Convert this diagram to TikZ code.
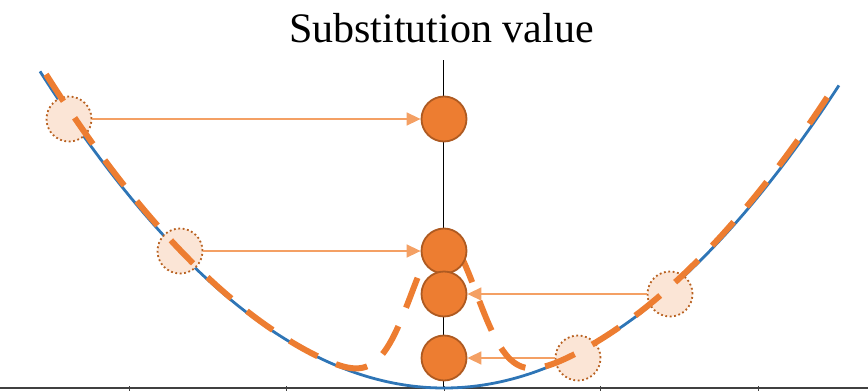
\documentclass[tikz,border=0pt]{standalone}
\usepackage{fontspec}
\setmainfont{Liberation Serif}
\usetikzlibrary{arrows.meta}
\definecolor{orfill}{HTML}{ED7D31}
\definecolor{orline}{HTML}{AE5A21}
\definecolor{pale}{HTML}{FBE5D6}
\definecolor{paleline}{HTML}{B8601F}
\definecolor{arr}{HTML}{F4A064}
\definecolor{blu}{HTML}{2E75B6}
\definecolor{axisgray}{HTML}{404040}
\pgfdeclarelayer{lone}
\pgfdeclarelayer{ltwo}
\pgfdeclarelayer{lthree}
\pgfdeclarelayer{lfour}
\pgfsetlayers{lone,ltwo,lthree,lfour,main}
\begin{document}
\begin{tikzpicture}[x=1pt,y=-1pt,
 val/.style={circle, fill=orfill, draw=orline, line width=1.8pt, minimum size=45pt, inner sep=0pt},
 src/.style={circle, fill=pale, draw=paleline, line width=1.8pt, dash pattern=on 1.8pt off 2.6pt, minimum size=45pt, inner sep=0pt},
 link/.style={draw=arr, line width=1.5pt, -{Triangle[length=14pt,width=13pt]}},
 curve/.style={draw=blu, line width=2.8pt},
 dcurve/.style={draw=orfill, line width=6pt, dash pattern=on 32pt off 20pt},
 axisline/.style={draw=axisgray, line width=2.4pt},
 tick/.style={draw=axisgray, line width=1pt}]
\useasboundingbox (0,0) rectangle (868,391);

% value circles (top layer)
\node[val] (v1) at (444,119) {};
\node[val] (v2) at (444,251) {};
\node[val] (v3) at (444,294) {};
\node[val] (v4) at (444,358) {};

\node[anchor=base] (title) at (441.5,42) {\fontsize{42}{48}\selectfont Substitution value};

\begin{pgfonlayer}{lone}
  \draw[black, line width=1pt] (443.5,60) -- (443.5,388);
  \draw[axisline] (0,388) -- (868,388);
  \foreach \t in {129,286,444,600,758} \draw[tick] (\t,386) -- (\t,391);
  \draw[curve] plot[domain=-4.04:3.95, samples=160] ({444+100*\x}, {388-19.4*\x*\x});
\end{pgfonlayer}

\begin{pgfonlayer}{ltwo}
  \node[src] (p1) at (69,119) {};
  \node[src] (p2) at (180,251) {};
  \node[src] (p3) at (670,294) {};
  \node[src] (p4) at (578,358) {};
\end{pgfonlayer}

\begin{pgfonlayer}{lthree}
  \draw[link] (p1) -- (v1);
  \draw[link] (p2) -- (v2);
  \draw[link] (p3) -- (v3);
  \draw[link] (p4) -- (v4);
\end{pgfonlayer}

\begin{pgfonlayer}{lfour}
  \draw[dcurve] plot[domain=-3.98:3.92, samples=300] ({444+100*\x}, {388-19.8*\x*\x-150*exp(max(-20,-4.59*\x*\x))});
\end{pgfonlayer}
\end{tikzpicture}
\end{document}
